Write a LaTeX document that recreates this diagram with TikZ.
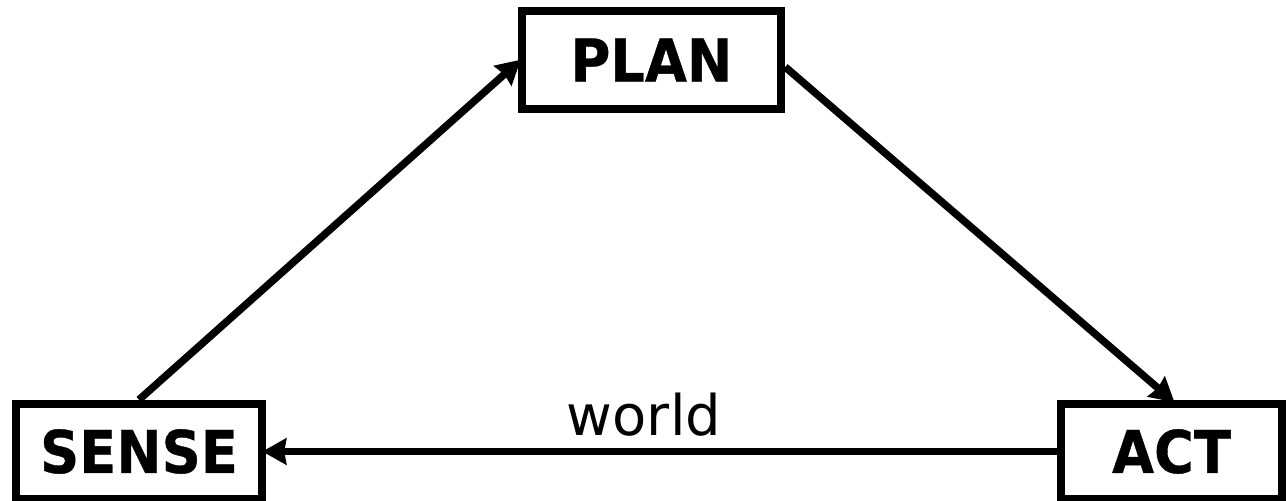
\documentclass[tikz,border=0pt]{standalone}
\usepackage{fontspec}
\setmainfont{DejaVu Sans}
\newfontfamily\boxfont[FakeStretch=0.92,FakeBold=0.6]{DejaVu Sans Bold}
\usetikzlibrary{arrows.meta}
\tikzset{
  blockbox/.style={draw, line width=8.5pt, inner sep=0pt, font=\boxfont\fontsize{59pt}{59pt}\selectfont},
  flow/.style={line width=7.5pt, shorten >=-4pt, -{Stealth[length=24pt,width=26pt,inset=2pt]}},
  wordlabel/.style={font=\fontsize{56pt}{56pt}\selectfont, inner sep=0pt, anchor=base}
}
\begin{document}
\begin{tikzpicture}[x=1pt,y=-1pt]
\useasboundingbox (0,0) rectangle (1286,501);
\node[blockbox, minimum width=259pt, minimum height=98pt] (plan) at (651.5,60) {PLAN};
\node[blockbox, minimum width=246pt, minimum height=95pt] (sense) at (139,451.5) {SENSE};
\node[blockbox, minimum width=221pt, minimum height=95pt] (act) at (1171.5,451.5) {ACT};
\draw[flow] (sense.north) -- (plan.181.5);
\draw[flow] (plan.-3) -- (act.north);
\draw[flow] (act.west) -- (sense.east);
\node[wordlabel] (world) at (644,435) {world};
\end{tikzpicture}
\end{document}
